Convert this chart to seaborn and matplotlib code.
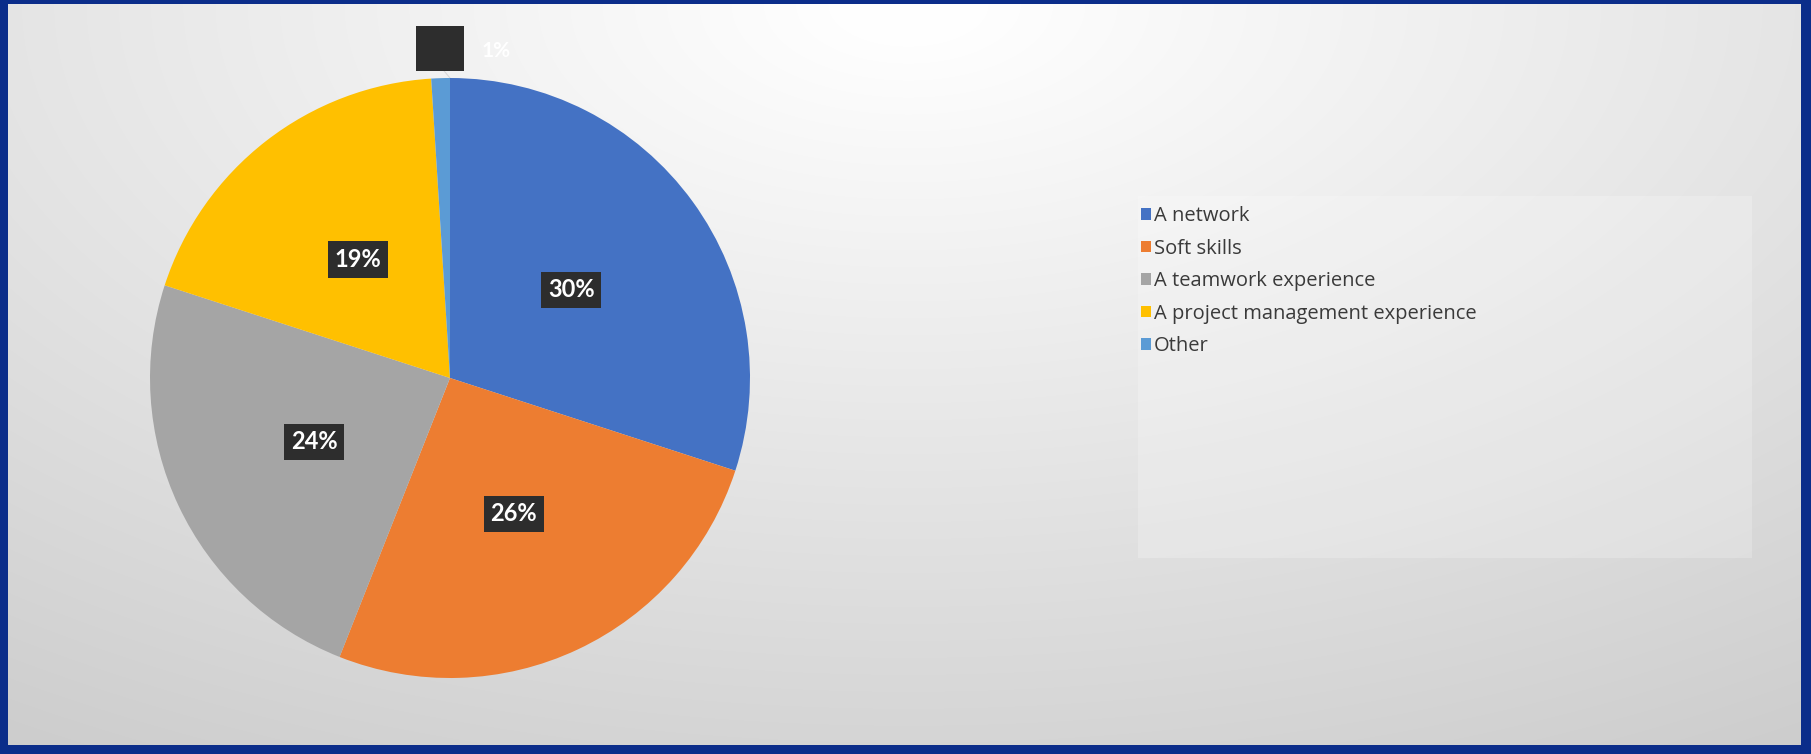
import numpy as np
import matplotlib
matplotlib.use("Agg")
import matplotlib.pyplot as plt
from matplotlib.patches import Rectangle
import seaborn as sns

# Survey answers and their shares (percent)
categories = ["A network", "Soft skills", "A teamwork experience",
              "A project management experience", "Other"]
shares = [30, 26, 24, 19, 1]
slice_colors = ["#4472C4", "#ED7D31", "#A5A5A5", "#FFC000", "#5B9BD5"]

sns.set_theme(style="white")
plt.rcParams["font.family"] = ["Lato", "DejaVu Sans"]

W, H, DPI = 1811, 754, 100
fig = plt.figure(figsize=(W / DPI, H / DPI), dpi=DPI, facecolor="#0b2d8a")

# Slide background: soft radial grey gradient inside a navy frame
left, top, right, bottom = 8, 4, 10, 9
bg = fig.add_axes([left / W, bottom / H, (W - left - right) / W, (H - top - bottom) / H])
bw, bh = W - left - right, H - top - bottom
xx, yy = np.meshgrid(np.arange(bw), np.arange(bh))
dist = np.sqrt((xx - 900.0) ** 2 + (1.9 * yy) ** 2)
shade = np.clip(256 - 0.031 * np.maximum(dist - 80, 0) - 2, 195, 255) / 255.0
bg.imshow(np.dstack([shade] * 3), aspect="auto", interpolation="bilinear")
bg.set_axis_off()

# Legend panel
fig.patches.append(Rectangle((1138 / W, 1 - 558 / H), 614 / W, 362 / H,
                             transform=fig.transFigure, facecolor="white",
                             alpha=0.22, edgecolor="none", zorder=1))

# Pie
cx, cy, r = 450, 378, 300
ax = fig.add_axes([(cx - r) / W, (H - cy - r) / H, 2 * r / W, 2 * r / H])
wedges, _ = ax.pie(shares, colors=slice_colors, startangle=90, counterclock=False,
                   radius=1.0, wedgeprops=dict(linewidth=0))
ax.set_xlim(-1, 1)
ax.set_ylim(-1, 1)
ax.set_aspect("equal")
ax.set_axis_off()

box = dict(boxstyle="square,pad=0.28", facecolor="#2d2d2d", edgecolor="none")
for w, val in zip(wedges, shares):
    mid = np.deg2rad((w.theta1 + w.theta2) / 2)
    if val >= 5:
        x, y = 0.5 * np.cos(mid), 0.5 * np.sin(mid)
        ax.text(x, y, f"{val}%", ha="center", va="center", color="white",
                fontsize=17, fontweight="bold", bbox=box, clip_on=False)
    else:
        x, y = 1.1 * np.cos(mid), 1.1 * np.sin(mid)
        ax.plot([x + 0.01, 0.0], [y - 0.07, 1.0], color="#d8d8d8", lw=0.8,
                clip_on=False, zorder=0)
        ax.add_patch(Rectangle((x - 0.08, y - 0.075), 0.16, 0.15,
                               facecolor="#2d2d2d", edgecolor="none",
                               clip_on=False, zorder=3))
        ax.text(x + 0.19, y - 0.01, f"{val}%", ha="center", va="center",
                color="white", fontsize=15, fontweight="bold", clip_on=False)

leg = fig.legend(wedges, categories, loc="upper left",
                 bbox_to_anchor=(1133 / W, 1 - 198 / H), frameon=False,
                 handlelength=0.5, handleheight=0.5, handletextpad=0.15,
                 labelspacing=0.62, borderaxespad=0,
                 prop={"family": "Open Sans", "size": 14.5})
for t in leg.get_texts():
    t.set_color("#3a3a3a")

fig.savefig("out.png", dpi=DPI, facecolor=fig.get_facecolor())
